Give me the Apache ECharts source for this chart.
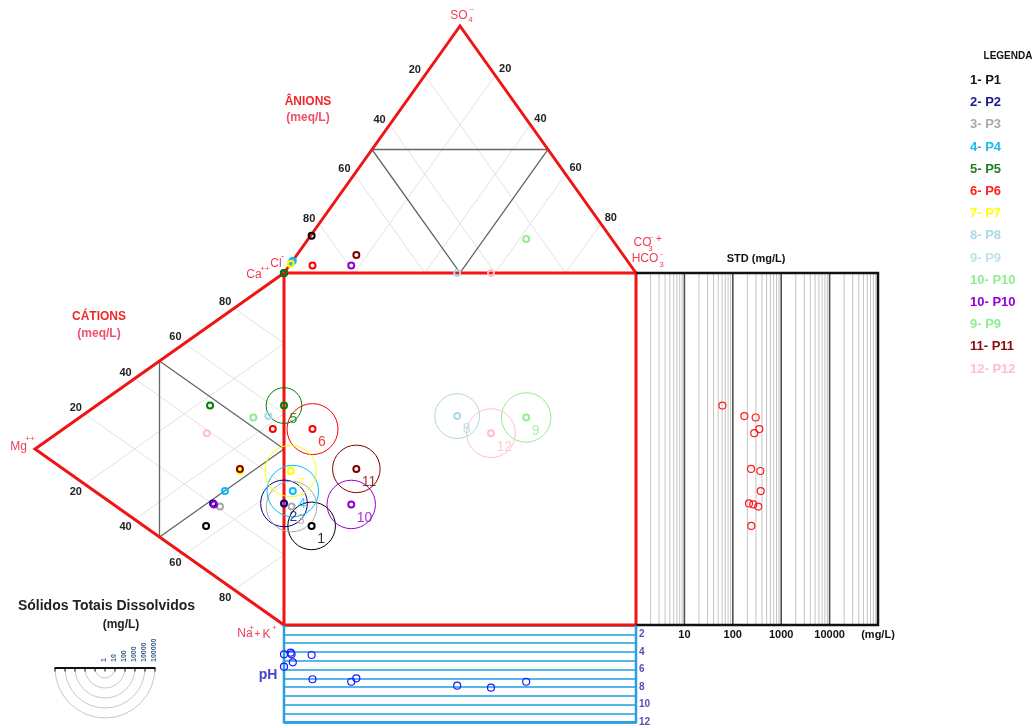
<!DOCTYPE html>
<html><head><meta charset="utf-8">
<script src="https://cdn.jsdelivr.net/npm/echarts@6/dist/echarts.min.js"></script>
<style>html,body{margin:0;padding:0;background:#fff}#c{width:1036px;height:728px}</style>
</head><body><div id="c"></div><script>
// ---------------- DATA ----------------
const sampleNames = ['P1','P2','P3','P4','P5','P6','P7','P8','P9','P10','P11','P12'];
const sampleIds   = ['1','2','3','4','5','6','7','8','9','10','11','12'];
const sampleColors = ['#000000','#00008b','#a9a9a9','#00bfff','#008000','#ff0000','#ffff00','#add8e6','#90ee90','#9400d3','#800000','#ffc0cb'];
// cations (% meq/L)
const caPct  = [12.5,20.3,20.8,26.2,47.5,53.4,34.9,56.2,52.8,20.2,35.5,39.0];
const mgPct  = [31.3,28.5,25.7,23.7,29.7, 4.5,17.7, 6.3,12.3,28.1,17.7,31.0];
const naKPct = [56.2,51.2,53.5,50.1,22.8,42.1,47.4,37.5,34.9,51.7,46.8,30.0];
// anions (% meq/L)
const clPct   = [84.6,100,95.7,95.0,100,90.4,96.3,50.8,24.3,79.4,75.8,41.2];
const so4Pct  = [15.1,  0, 4.3, 5.0,  0, 3.0, 3.6,  0, 13.8, 3.0, 7.3, 0];
const hco3Pct = [ 0.3,  0,   0,   0,  0, 6.6, 0.1,49.2,61.9,17.6,16.9,58.8];
// total dissolved solids (mg/L) and pH
const tdsMgL   = [241,216,336,377,61,353,370,173,297,265,238,278];
const phValues = [4.35,5.68,4.27,5.18,4.27,7.11,4.09,7.84,7.39,7.39,7.00,8.07];

// ticks / labels
const triTicks = [20,40,60,80];
const stdDecades = [10,100,1000,10000];
const stdMinorFactors = [2,3,4,5,6,7,8,9];
const stdMinorDecades = [1,10,100,1000,10000];
const stdTickLabels = {10:'10',100:'100',1000:'1000',10000:'10000',100000:'(mg/L)'};
const phTickLabels = [2,4,6,8,10,12];
const tdsLegendValues = [1,10,100,1000,10000,100000];
const legendLabels = ['1- P1','2- P2','3- P3','4- P4','5- P5','6- P6','7- P7','8- P8','9- P9','10- P10','10- P10','9- P9','11- P11','12- P12'];
const legendColors = ['#151515','#1a1a8c','#a9a9a9','#1cb8f2','#1f7f1f','#ff2020','#ffff00','#add8e6','#bfe3ea','#90ee90','#9400d3','#90ee90','#8b0a0a','#ffc0cb'];

// ---------------- LAYOUT ----------------
const F = '"Liberation Sans", Arial, sans-serif';
const L = {
  cl:[284,273], hco3:[636,273], so4:[460,26],
  ca:[284,273], mg:[35,449], na:[284,625],
  std:[636,273,878,625],
  ph:[284,625.5,636,722.3],
  leg:[105,668]
};
function mix(P, w){ const s=w.reduce((a,b)=>a+b,0); let x=0,y=0; P.forEach((p,i)=>{x+=p[0]*w[i];y+=p[1]*w[i];}); return [x/s,y/s]; }
const anion  = (cl,so4,hco3)=>mix([L.cl,L.so4,L.hco3],[cl,so4,hco3]);
const cation = (ca,mg,na)=>mix([L.ca,L.mg,L.na],[ca,mg,na]);

const N = sampleNames.length;
const anPts=[], catPts=[], diaPts=[];
for(let i=0;i<N;i++){
  const a = anion(clPct[i],so4Pct[i],hco3Pct[i]);
  const c = cation(caPct[i],mgPct[i],naKPct[i]);
  anPts.push(a); catPts.push(c); diaPts.push([a[0],c[1]]);
}

// grid segments
const gridSegs=[];
triTicks.forEach(t=>{ const f=t/100;
  gridSegs.push([anion(f,1-f,0), anion(f,0,1-f)]);
  gridSegs.push([anion(0,1-f,f), anion(1-f,0,f)]);
  gridSegs.push([cation(f,1-f,0), cation(f,0,1-f)]);
  gridSegs.push([cation(0,1-f,f), cation(1-f,0,f)]);
});
const medial=[
  [anion(.5,.5,0), anion(0,.5,.5), anion(.5,0,.5), anion(.5,.5,0)],
  [cation(.5,.5,0), cation(0,.5,.5), cation(.5,0,.5), cation(.5,.5,0)]
];
const redFrames=[
  [L.cl, L.so4, L.hco3],
  [L.ca, L.mg, L.na],
  [[284,273],[636,273],[636,625],[284,625],[284,273]]
];
const stdFrame=[[[636,273],[878,273],[878,625],[636,625]]];
const phFrame=[[[284,625.5],[284,722.3],[636,722.3],[636,625.5]]];

function linesSeries(list,color,width,z,xi,yi){
  return {type:'lines',coordinateSystem:'cartesian2d',xAxisIndex:xi||0,yAxisIndex:yi||0,polyline:true,silent:true,z:z,animation:false,
    lineStyle:{color:color,width:width,opacity:1,type:'solid',curveness:0},data:list.map(c=>({coords:c}))};
}
function ringData(pts,colors,size,bw){
  return pts.map((p,i)=>({value:p,symbolSize:Array.isArray(size)?size[i]:size,
    itemStyle:{color:'rgba(255,255,255,0)',borderColor:colors[i],borderWidth:bw,opacity:1}}));
}

// STD minor lines
const stdMinor=[];
stdMinorDecades.forEach(d=>stdMinorFactors.forEach(k=>stdMinor.push([[k*d,273],[k*d,625]])));
const stdMajor=stdDecades.map(v=>[[v,273],[v,625]]);

// TDS legend geometry
const legR = tdsLegendValues.map(v=>10*Math.log10(v));
const legTicks=[];
legR.forEach(r=>{ legTicks.push([[L.leg[0]-r,L.leg[1]],[L.leg[0]-r,L.leg[1]+3.5]]); if(r>0) legTicks.push([[L.leg[0]+r,L.leg[1]],[L.leg[0]+r,L.leg[1]+3.5]]); });

// ---------------- TEXT ----------------
const texts=[];
function T(x,y,text,fill,size,bold,align,extra){
  texts.push(Object.assign({type:'text',x:x,y:y,z:100,silent:true,style:{text:text,fill:fill,fontSize:size,fontWeight:bold?'bold':'normal',fontFamily:F,align:align||'center',verticalAlign:'middle'}},extra||{}));
}
triTicks.forEach(t=>{ const f=t/100; let p;
  p=anion(f,1-f,0);  T(p[0]-10,p[1]-5,String(t),'#222',11,true);
  p=anion(0,1-f,f);  T(p[0]+10,p[1]-6,String(t),'#222',11,true);
  p=cation(f,1-f,0); T(p[0]-9,p[1]-6,String(t),'#222',11,true);
  p=cation(0,1-f,f); T(p[0]-9,p[1]+8,String(t),'#222',11,true);
});
const VC='#f03c55';
T(459,16,'SO',VC,12); T(470.5,20,'4',VC,8); T(471.5,9.5,'--',VC,7);
T(308,102,'ÂNIONS','#f02828',12,true); T(308,118,'(meq/L)','#f0506a',12,true);
T(276,263.5,'Cl',VC,12); T(282.5,257,'-',VC,9);
T(254,274.5,'Ca',VC,12); T(265,269,'++',VC,8);
T(642.5,243,'CO',VC,12); T(650.5,249,'3',VC,8); T(650.5,237,'--',VC,7); T(659,239.5,'+',VC,10);
T(645,258.5,'HCO',VC,12); T(661.5,265,'3',VC,8); T(661.5,254,'-',VC,8);
T(99,317,'CÁTIONS','#f02828',12,true); T(99,333.5,'(meq/L)','#f0506a',12,true);
T(18.5,447,'Mg',VC,12); T(30,439,'++',VC,8);
T(245,634,'Na',VC,12); T(251.5,627.5,'+',VC,8); T(257.5,634,'+',VC,10); T(266.5,635,'K',VC,12); T(274.5,628,'+',VC,8);
T(756,259,'STD (mg/L)','#111',11,true);
T(1008,56,'LEGENDA','#111',10,true);
legendLabels.forEach((s,i)=>T(970,80.5+22.2*i,s,legendColors[i],13,true,'left'));
T(106.5,606.5,'Sólidos Totais Dissolvidos','#222',14,true);
T(121,625,'(mg/L)','#222',12,true);
T(268,675.5,'pH','#4646c6',14,true);
tdsLegendValues.forEach((v,i)=>T(L.leg[0]+legR[i]-0.5,L.leg[1]-6,String(v),'#3a5a88',7,true,'left',{rotation:Math.PI/2}));

// ---------------- CHART ----------------
const chart = echarts.init(document.getElementById('c'));
chart.setOption({
  animation:false,
  backgroundColor:'#ffffff',
  grid:[
    {left:0,top:0,width:1036,height:728,containLabel:false,outerBoundsMode:'none'},
    {left:636,top:273,width:242,height:352,containLabel:false,outerBoundsMode:'none'},
    {left:284,top:625.5,width:352,height:96.8,containLabel:false,outerBoundsMode:'none'}
  ],
  xAxis:[
    {type:'value',gridIndex:0,min:0,max:1036,show:false},
    {type:'log',gridIndex:1,logBase:10,min:1,max:100000,splitNumber:5,
      axisLine:{show:false},axisTick:{show:false},splitLine:{show:false},
      axisLabel:{show:true,interval:0,showMinLabel:true,showMaxLabel:true,margin:4,color:'#111',fontWeight:'bold',fontSize:11,fontFamily:F,
        formatter:v=>{const k=Math.round(v);return stdTickLabels[k]||'';},
        rich:{}}},
    {type:'value',gridIndex:2,min:284,max:636,show:false}
  ],
  yAxis:[
    {type:'value',gridIndex:0,min:0,max:728,inverse:true,show:false},
    {type:'value',gridIndex:1,min:273,max:625,inverse:true,show:false},
    {type:'value',gridIndex:2,min:1,max:12,interval:1,inverse:true,position:'right',
      axisLine:{show:false},axisTick:{show:false},
      splitLine:{show:true,lineStyle:{color:'#55b6ea',width:1.8}},
      axisLabel:{show:true,interval:0,showMinLabel:true,showMaxLabel:true,margin:3,color:'#5252b4',fontWeight:'bold',fontSize:10,fontFamily:F,
        formatter:v=>phTickLabels.indexOf(Math.round(v))>=0?String(Math.round(v)):''}}
  ],
  graphic:texts,
  series:[
    linesSeries(gridSegs,'#e2e2e2',1,1),
    linesSeries(medial,'#666666',1.3,2),
    linesSeries(stdMinor,'#c4c4c4',1,1,1,1),
    linesSeries(stdMajor,'#505050',1.6,2,1,1),
    linesSeries(redFrames,'#f01414',3,3),
    linesSeries(stdFrame,'#111111',2.5,3),
    linesSeries(phFrame,'#2a9fe2',2.5,3),
    // TDS legend
    {type:'custom',coordinateSystem:'cartesian2d',xAxisIndex:0,yAxisIndex:0,silent:true,z:2,animation:false,
      data:tdsLegendValues.slice(1).map(v=>[L.leg[0],L.leg[1],v]),
      encode:{x:0,y:1},
      renderItem:(params,api)=>{
        const c=api.coord([api.value(0),api.value(1)]);
        const r=10*Math.log10(api.value(2));
        return {type:'arc',shape:{cx:c[0],cy:c[1],r:r,startAngle:0,endAngle:Math.PI,clockwise:true},
          style:{stroke:'#c8c8c8',fill:'none',lineWidth:1}};
      }},
    linesSeries([[[L.leg[0]-50.5,L.leg[1]],[L.leg[0]+50.5,L.leg[1]]]],'#111111',2,3),
    linesSeries(legTicks,'#111111',1,3),
    // diamond circles (radius ~ log TDS)
    {type:'scatter',xAxisIndex:0,yAxisIndex:0,silent:true,z:4,symbol:'circle',animation:false,
      data:ringData(diaPts,sampleColors,tdsMgL.map(v=>20*Math.log10(v)),1)},
    // points
    {type:'scatter',xAxisIndex:0,yAxisIndex:0,silent:true,z:6,symbol:'circle',animation:false,data:ringData(anPts,sampleColors,6,2)},
    {type:'scatter',xAxisIndex:0,yAxisIndex:0,silent:true,z:6,symbol:'circle',animation:false,data:ringData(catPts,sampleColors,6,2)},
    {type:'scatter',xAxisIndex:0,yAxisIndex:0,silent:true,z:6,symbol:'circle',animation:false,data:ringData(diaPts,sampleColors,6,2)},
    // circle number labels
    {type:'scatter',xAxisIndex:0,yAxisIndex:0,silent:true,z:8,symbolSize:1,animation:false,
      itemStyle:{color:'rgba(0,0,0,0)'},
      label:{show:true,position:[6,14],align:'left',verticalAlign:'middle',fontSize:14,fontFamily:F,formatter:p=>p.data.txt},
      data:diaPts.map((p,i)=>({value:p,txt:sampleIds[i],label:{color:sampleColors[i]}}))},
    // STD points
    {type:'scatter',xAxisIndex:1,yAxisIndex:1,silent:true,z:6,symbol:'circle',animation:false,
      data:ringData(tdsMgL.map((v,i)=>[v,catPts[i][1]]),tdsMgL.map(()=> '#ff1a1a'),7,1.2)},
    // pH points
    {type:'scatter',xAxisIndex:2,yAxisIndex:2,silent:true,z:6,symbol:'circle',animation:false,
      data:ringData(phValues.map((v,i)=>[anPts[i][0],v]),phValues.map(()=> '#1a1aff'),7,1.2)}
  ]
});
</script></body></html>
